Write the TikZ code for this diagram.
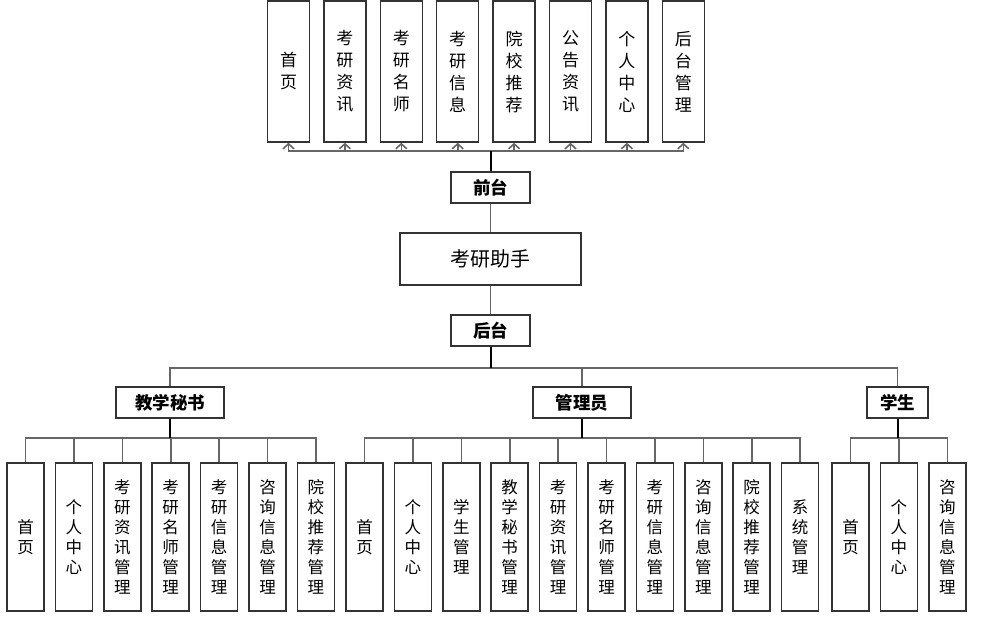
\documentclass[tikz,border=0pt]{standalone}
\usepackage{fontspec}
\setmainfont{Noto Sans CJK SC}
\usetikzlibrary{arrows.meta}
\definecolor{boxgray}{HTML}{333333}
\definecolor{linegray}{HTML}{666666}
\tikzset{
  topbox/.style={draw=boxgray, line width=1.5pt, minimum width=42, minimum height=141, inner sep=0pt, align=center, font=\fontsize{17}{22}\selectfont},
  subbox/.style={draw=boxgray, line width=1.5pt, minimum width=37, minimum height=148, inner sep=0pt, align=center, font=\fontsize{16.5}{20}\selectfont},
  labelbox/.style={draw=boxgray, line width=1.5pt, minimum height=31, inner sep=0pt, font=\fontsize{17.5}{20}\selectfont\bfseries},
  branch/.style={draw=linegray, line width=1.6pt},
  trunk/.style={draw=black, line width=2pt},
  arr/.style={branch, -{Straight Barb[length=5pt,width=11pt]}}
}
\begin{document}
\begin{tikzpicture}[x=1pt,y=-1pt]
\useasboundingbox (0,0) rectangle (983,618);
\def\tx{288.5} %x of the first top box
\def\td{56.4} %distance between top boxes
\def\sd{48.4} %distance between bottom boxes
\def\by{537} %y of the bottom boxes

% front end
\node [labelbox, minimum width=79] (qt) at (490.5,187.5) {前台};
\foreach \lbl [count=\i] in {{首\\页},{考\\研\\资\\讯},{考\\研\\名\\师},{考\\研\\信\\息},{院\\校\\推\\荐},{公\\告\\资\\讯},{个\\人\\中\\心},{后\\台\\管\\理}}
{
\node [topbox] (top\i) at (\tx+\td*\i-\td,71.5) {\lbl};
\draw [arr] (qt.north) -- ++(0,-20) -| (top\i.south);
}
\draw [trunk] (qt.north) -- ++(0,-20);

% system
\node [draw=boxgray, line width=1.5pt, minimum width=181, minimum height=52, font=\fontsize{20}{22}\selectfont] (zs) at (490.5,259) {考研助手};
\node [labelbox, minimum width=79] (ht) at (490.5,330.5) {后台};
\draw [branch] (qt) -- (zs);
\draw [branch] (zs) -- (ht);

% roles
\node [labelbox, minimum width=108] (js) at (170,402.5) {教学秘书};
\node [labelbox, minimum width=98] (gly) at (582,402.5) {管理员};
\node [labelbox, minimum width=61] (xs) at (897.5,402.5) {学生};
\foreach \r in {js, gly, xs}
{
\draw [branch] (ht.south) -- ++(0,21) -| (\r.north);
}
\draw [trunk] (ht.south) -- ++(0,21);

% teaching secretary
\foreach \lbl [count=\i] in {{首\\页},{个\\人\\中\\心},{考\\研\\资\\讯\\管\\理},{考\\研\\名\\师\\管\\理},{考\\研\\信\\息\\管\\理},{咨\\询\\信\\息\\管\\理},{院\\校\\推\\荐\\管\\理}}
{
\node [subbox] (js\i) at (25.5+\sd*\i-\sd,\by) {\lbl};
\draw [branch] (js.south) -- ++(0,19) -| (js\i.north);
}
\draw [trunk] (js.south) -- ++(0,19);

% administrator
\foreach \lbl [count=\i] in {{首\\页},{个\\人\\中\\心},{学\\生\\管\\理},{教\\学\\秘\\书\\管\\理},{考\\研\\资\\讯\\管\\理},{考\\研\\名\\师\\管\\理},{考\\研\\信\\息\\管\\理},{咨\\询\\信\\息\\管\\理},{院\\校\\推\\荐\\管\\理},{系\\统\\管\\理}}
{
\node [subbox] (gly\i) at (364.5+\sd*\i-\sd,\by) {\lbl};
\draw [branch] (gly.south) -- ++(0,19) -| (gly\i.north);
}
\draw [trunk] (gly.south) -- ++(0,19);

% student
\foreach \lbl [count=\i] in {{首\\页},{个\\人\\中\\心},{咨\\询\\信\\息\\管\\理}}
{
\node [subbox] (xs\i) at (850.5+\sd*\i-\sd,\by) {\lbl};
\draw [branch] (xs.south) -- ++(0,19) -| (xs\i.north);
}
\draw [trunk] (xs.south) -- ++(0,19);
\end{tikzpicture}
\end{document}
